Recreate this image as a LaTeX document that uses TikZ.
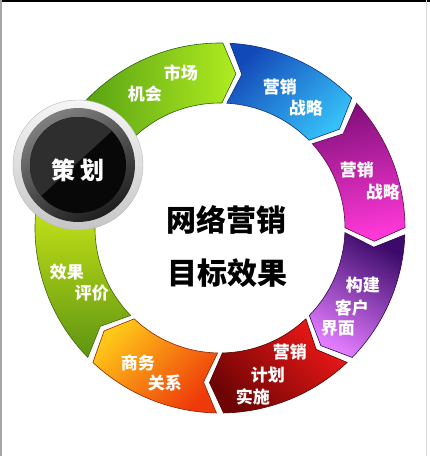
\documentclass[tikz,border=0pt]{standalone}
\usepackage{fontspec}
\newfontfamily\cjk{Noto Sans CJK SC}
\usetikzlibrary{calc}

\definecolor{grnA}{HTML}{3D8C10}\definecolor{grnB}{HTML}{B0EC20}
\definecolor{bluA}{HTML}{1348B8}\definecolor{bluB}{HTML}{36C0F8}
\definecolor{magA}{HTML}{82107A}\definecolor{magB}{HTML}{FF38D8}
\definecolor{purA}{HTML}{3C0A6A}\definecolor{purB}{HTML}{E27CFF}
\definecolor{redA}{HTML}{F01818}\definecolor{redB}{HTML}{6E0404}
\definecolor{orgA}{HTML}{FFC818}\definecolor{orgB}{HTML}{EE3A0A}
\definecolor{ygnA}{HTML}{E0F818}\definecolor{ygnB}{HTML}{5E9412}

\tikzset{
	segment/.style={line width=0.6pt},
	seggreen/.style={top color=grnA, bottom color=grnB, shading angle=90, draw=grnA!70!black},
	segblue/.style={top color=bluA, bottom color=bluB, shading angle=45, draw=bluA!70!black},
	segmagenta/.style={top color=magA, bottom color=magB, shading angle=10, draw=magA!70!black},
	segpurple/.style={top color=purA, bottom color=purB, shading angle=-30, draw=purA!80!black},
	segred/.style={top color=redA, bottom color=redB, shading angle=-45, draw=redB!80!black},
	segorange/.style={top color=orgA, bottom color=orgB, shading angle=45, draw=orgB!60!black},
	segyellow/.style={top color=ygnA, bottom color=ygnB, shading angle=0, draw=ygnB!70!black},
	seglabel/.style={text=white, font=\cjk\bfseries\fontsize{17}{17}\selectfont, inner sep=0pt},
	maintext/.style={text=black, font=\cjk\bfseries\fontsize{30}{30}\selectfont, inner sep=0pt}
}

\def\Ro{185pt}
\def\Ri{125pt}
\def\Rm{155pt}
\def\gapa{1.1}
\def\tipa{5}

\begin{document}
\begin{tikzpicture}[x=1pt,y=1pt]
	\useasboundingbox (-220,-228) rectangle (210,228);
	\fill[white] (-220,-228) rectangle (210,228);
	% frame
	\fill[black] (-220,226) rectangle (210,228);
	\fill[gray!70] (-220,-228) rectangle (-218,228);
	\fill[gray!30] (206.5,-228) rectangle (207.5,228);

	% ring of arrows
	\foreach \a/\b/\s in {170/88/seggreen, 88/43.5/segblue, 43.5/-1/segmagenta, -1/-45.5/segpurple, -45.5/-90/segred, -90/-134.5/segorange, -134.5/-200/segyellow}
		\shade[segment,\s] ({\a-\gapa}:\Ro) arc[start angle=\a-\gapa, end angle=\b+\gapa, radius=\Ro]
			-- ({\b+\gapa-\tipa}:\Rm) -- ({\b+\gapa}:\Ri)
			arc[start angle=\b+\gapa, end angle=\a-\gapa, radius=\Ri]
			-- ({\a-\gapa-\tipa}:\Rm) -- cycle;

	% labels on the ring
	\node[seglabel] (green1) at (-39,155) {市场};
	\node[seglabel] (green2) at (-75,134) {机会};
	\node[seglabel] (blue1) at (60,141) {营销};
	\node[seglabel] (blue2) at (86,120) {战略};
	\node[seglabel] (mag1) at (137,58) {营销};
	\node[seglabel] (mag2) at (163,36) {战略};
	\node[seglabel] (pur1) at (143,-57) {构建};
	\node[seglabel] (pur2) at (132,-80) {客户};
	\node[seglabel] (pur3) at (118,-100) {界面};
	\node[seglabel] (red1) at (70,-124) {营销};
	\node[seglabel] (red2) at (48,-147) {计划};
	\node[seglabel] (red3) at (33,-169) {实施};
	\node[seglabel] (orange1) at (-82,-135) {商务};
	\node[seglabel] (orange2) at (-55,-155) {关系};
	\node[seglabel] (yg1) at (-153,-44) {效果};
	\node[seglabel] (yg2) at (-128,-65) {评价};

	% black button
	\coordinate (plancenter) at (-142,63);
	\shade[top color=gray!8, bottom color=gray!45, draw=gray!55] (plancenter) circle[radius=65pt];
	\shade[top color=black!50, bottom color=black!88, shading angle=30] (plancenter) circle[radius=57pt];
	\fill[black!97] (plancenter) circle[radius=48pt];
	\fill[black!82] (plancenter) ++(45:48pt) arc[start angle=45, end angle=220, radius=48pt] -- cycle;
	\node[text=white, font=\cjk\bfseries\fontsize{24}{24}\selectfont, inner sep=0pt] (plan) at (-142,58) {策\hspace{5pt}划};

	% centre text
	\node[maintext] (center1) at (7,8) {网络营销};
	\node[maintext] (center2) at (8,-45) {目标效果};
\end{tikzpicture}
\end{document}
